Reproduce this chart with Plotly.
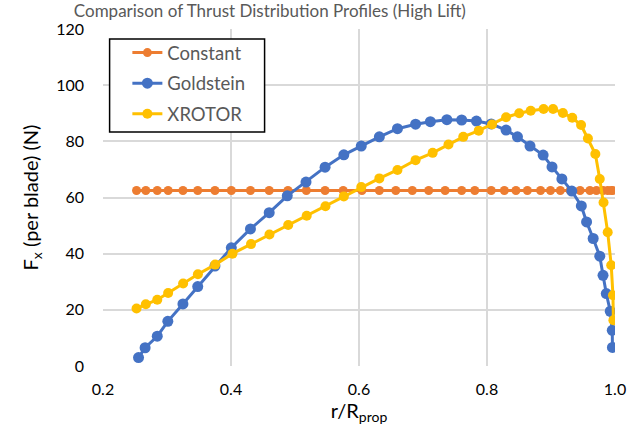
import plotly.graph_objects as go

# ---- data ----
r_const = [0.2524, 0.2669, 0.2848, 0.3018, 0.3249, 0.3480, 0.3749, 0.4005, 0.4304, 0.4597,
           0.4890, 0.5177, 0.5470, 0.5753, 0.6046, 0.6318, 0.6575, 0.6833, 0.7089, 0.7346,
           0.7604, 0.7809, 0.8066, 0.8271, 0.8452, 0.8631, 0.8837, 0.8992, 0.9146, 0.9300,
           0.9454, 0.9608, 0.9710, 0.9814, 0.9886, 0.9941, 0.9968]
f_const = [62.5] * len(r_const)

r_gold = [0.2555, 0.2658, 0.2848, 0.3013, 0.3249, 0.3480, 0.3749, 0.4005, 0.4304, 0.4597,
          0.4879, 0.5172, 0.5470, 0.5763, 0.6035, 0.6318, 0.6601, 0.6884, 0.7115, 0.7373,
          0.7604, 0.7835, 0.8066, 0.8298, 0.8476, 0.8672, 0.8877, 0.9016, 0.9170, 0.9325,
          0.9474, 0.9556, 0.9659, 0.9762, 0.9813, 0.9864, 0.9926, 0.9957, 0.9960]
f_gold = [3.0, 6.5, 10.6, 15.9, 22.1, 28.3, 35.6, 42.1, 48.8, 54.6,
          60.6, 65.5, 70.8, 75.2, 78.3, 81.6, 84.5, 86.1, 87.0, 87.7,
          87.6, 87.2, 86.2, 84.0, 81.6, 78.3, 75.1, 70.9, 66.6, 62.3,
          57.0, 51.3, 45.4, 39.1, 32.3, 25.8, 19.5, 12.7, 6.6]

r_xrot = [0.2524, 0.2669, 0.2848, 0.3018, 0.3252, 0.3483, 0.3753, 0.4023, 0.4313, 0.4601,
          0.4894, 0.5183, 0.5476, 0.5763, 0.6035, 0.6318, 0.6601, 0.6884, 0.7151, 0.7398,
          0.7629, 0.7871, 0.8079, 0.8298, 0.8503, 0.8683, 0.8884, 0.9032, 0.9186, 0.9332,
          0.9470, 0.9577, 0.9693, 0.9762, 0.9821, 0.9886, 0.9941, 0.9968, 0.9975]
f_xrot = [20.5, 22.0, 23.6, 26.0, 29.4, 32.7, 36.1, 40.0, 43.4, 46.8,
          50.2, 53.5, 56.9, 60.4, 63.7, 66.8, 69.8, 73.3, 75.9, 78.9,
          81.6, 83.8, 86.0, 88.6, 90.0, 90.9, 91.5, 91.5, 90.1, 88.4,
          85.8, 81.0, 75.5, 66.6, 58.2, 47.6, 35.9, 25.2, 16.3]

series_names = ["Constant", "Goldstein", "XROTOR"]
series_colors = ["#ED7D31", "#4472C4", "#FFC000"]

x_ticks = [0.2, 0.4, 0.6, 0.8, 1.0]
x_tick_text = ["0.2", "0.4", "0.6", "0.8", "1.0"]
y_ticks = [0, 20, 40, 60, 80, 100, 120]

FONT = "Lato"

fig = go.Figure()
for name, xs, ys, col, msz in zip(series_names,
                                  [r_const, r_gold, r_xrot],
                                  [f_const, f_gold, f_xrot],
                                  series_colors, [9, 11, 10]):
    fig.add_trace(go.Scatter(x=xs, y=ys, name=name, mode="lines+markers",
                             legendgroup=name,
                             line=dict(color=col, width=3),
                             marker=dict(color=col, size=msz)))

# legend frame (white box with black border) behind the legend entries
fig.add_shape(type="rect", xref="paper", yref="paper",
              x0=0.0129, x1=0.3156, y0=0.6943, y1=0.9706,
              line=dict(color="black", width=1.5), fillcolor="white", layer="above")

fig.update_layout(
    width=638, height=436,
    margin=dict(l=103, r=16, t=29, b=70),
    paper_bgcolor="white", plot_bgcolor="white",
    font=dict(family=FONT, color="#000000", size=16),
    title=dict(text="Comparison of Thrust Distribution Profiles (High Lift)",
               xref="container", yref="container", x=0.423, xanchor="center",
               y=1 - 11.5 / 436, yanchor="middle",
               font=dict(family=FONT, size=17, color="#595959")),
    legend=dict(x=0.0476, y=0.985, xanchor="left", yanchor="top",
                bgcolor="rgba(0,0,0,0)", borderwidth=0,
                font=dict(family=FONT, size=18.5, color="#595959"),
                tracegroupgap=3.5),
    showlegend=True,
)
fig.update_xaxes(range=[0.2, 1.0], tickvals=x_ticks, ticktext=x_tick_text,
                 showgrid=True, gridcolor="#D9D9D9", gridwidth=1.5,
                 zeroline=False, showline=False, ticklabelstandoff=12,
                 tickfont=dict(size=16, color="#000000"),
                 title=dict(text="r/R<sub>prop</sub>", font=dict(size=20), standoff=6))
fig.update_yaxes(range=[0, 120], tickvals=y_ticks,
                 showgrid=True, gridcolor="#D9D9D9", gridwidth=1.5,
                 zeroline=False, showline=False, ticklabelstandoff=18,
                 tickfont=dict(size=16, color="#000000"),
                 title=dict(text="F<sub>x</sub> (per blade) (N)", font=dict(size=20), standoff=12))

fig.write_html("out.html")
